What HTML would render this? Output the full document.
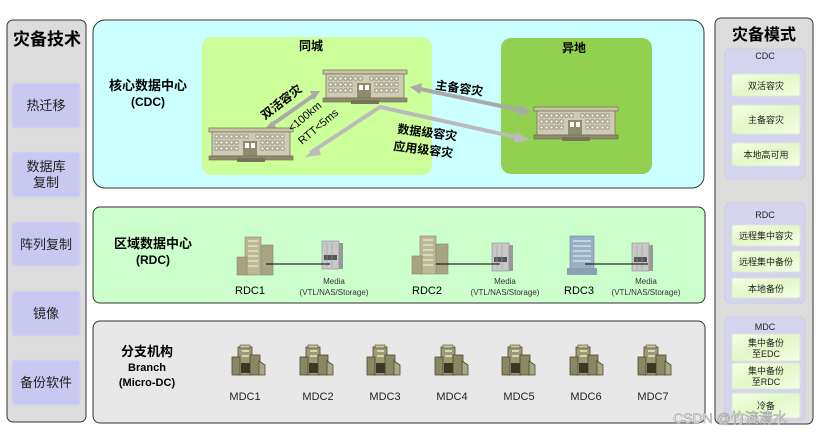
<!DOCTYPE html>
<html><head><meta charset="utf-8"><style>
body{margin:0;background:#fff}
svg{display:block}
text{font-family:"Liberation Sans","Noto Sans CJK SC",sans-serif}
</style></head><body>
<svg width="819" height="437" viewBox="0 0 819 437" xmlns="http://www.w3.org/2000/svg">
<defs>
<linearGradient id="btn" x1="0" y1="0" x2="1" y2="1"><stop offset="0" stop-color="#f4ffe4"/><stop offset="0.5" stop-color="#e2f8c8"/><stop offset="1" stop-color="#f4ffe4"/></linearGradient>
<g id="bld">
<rect x="0" y="0" width="84" height="4" fill="#c8c4a8" stroke="#7a7658" stroke-width="0.8"/>
<rect x="3" y="4" width="78" height="24" fill="#cfcbb2" stroke="#7a7658" stroke-width="0.8"/>
<g fill="#fff" stroke="#6a6650" stroke-width="0.6">
<rect x="6" y="7" width="3" height="3"/><rect x="11" y="7" width="3" height="3"/><rect x="16" y="7" width="3" height="3"/><rect x="21" y="7" width="3" height="3"/><rect x="26" y="7" width="3" height="3"/><rect x="31" y="7" width="3" height="3"/><rect x="36" y="7" width="3" height="3"/><rect x="47" y="7" width="3" height="3"/><rect x="52" y="7" width="3" height="3"/><rect x="57" y="7" width="3" height="3"/><rect x="62" y="7" width="3" height="3"/><rect x="67" y="7" width="3" height="3"/><rect x="72" y="7" width="3" height="3"/>
<rect x="6" y="13" width="3" height="3"/><rect x="11" y="13" width="3" height="3"/><rect x="16" y="13" width="3" height="3"/><rect x="21" y="13" width="3" height="3"/><rect x="26" y="13" width="3" height="3"/><rect x="52" y="13" width="3" height="3"/><rect x="57" y="13" width="3" height="3"/><rect x="62" y="13" width="3" height="3"/><rect x="67" y="13" width="3" height="3"/><rect x="72" y="13" width="3" height="3"/>
<rect x="6" y="19" width="3" height="3"/><rect x="11" y="19" width="3" height="3"/><rect x="16" y="19" width="3" height="3"/><rect x="21" y="19" width="3" height="3"/><rect x="26" y="19" width="3" height="3"/><rect x="52" y="19" width="3" height="3"/><rect x="57" y="19" width="3" height="3"/><rect x="62" y="19" width="3" height="3"/><rect x="67" y="19" width="3" height="3"/><rect x="72" y="19" width="3" height="3"/>
</g>
<rect x="34" y="13" width="14" height="15" fill="#8f8b6e"/>
<rect x="36" y="15" width="4" height="5" fill="#fff"/><rect x="42" y="15" width="4" height="5" fill="#fff"/>
<rect x="0" y="28" width="84" height="4" fill="#8f8b6e" stroke="#6a6650" stroke-width="0.6"/>
<rect x="28" y="30" width="28" height="4" fill="#77735a"/>
</g>
<g id="tower">
<rect x="8" y="0" width="16" height="38" fill="#bcb896" stroke="#8a8668" stroke-width="0.6"/>
<rect x="24" y="8" width="12" height="30" fill="#a8a482" stroke="#8a8668" stroke-width="0.6"/>
<rect x="0" y="20" width="10" height="18" fill="#a8a482" stroke="#8a8668" stroke-width="0.6"/>
<g fill="#dcd8bc"><rect x="11" y="3" width="10" height="2"/><rect x="11" y="8" width="10" height="2"/><rect x="11" y="13" width="10" height="2"/><rect x="11" y="18" width="10" height="2"/><rect x="11" y="23" width="10" height="2"/><rect x="11" y="28" width="10" height="2"/></g>
</g>
<g id="media">
<rect x="0" y="0" width="17" height="28" fill="#c8c8c8" stroke="#888" stroke-width="0.6"/>
<rect x="17" y="2" width="4" height="26" fill="#999"/>
<rect x="2" y="14" width="13" height="5" fill="#555"/>
<line x1="5" y1="2" x2="5" y2="26" stroke="#999" stroke-width="0.6"/><line x1="10" y1="2" x2="10" y2="26" stroke="#999" stroke-width="0.6"/>
</g>
<g id="mdc">
<rect x="6" y="2" width="14" height="28" fill="#9c9a76" stroke="#4a4a30" stroke-width="0.8"/>
<rect x="18" y="10" width="10" height="20" fill="#8a8864" stroke="#4a4a30" stroke-width="0.8"/>
<path d="M27 16 l6 4 v10 h-6z" fill="#aaa884" stroke="#4a4a30" stroke-width="0.8"/>
<rect x="0" y="12" width="8" height="18" fill="#8a8864" stroke="#4a4a30" stroke-width="0.8"/>
<rect x="9" y="18" width="9" height="10" fill="#3a3a24"/>
<rect x="10" y="5" width="7" height="2" fill="#d8d6b0"/><rect x="10" y="10" width="7" height="2" fill="#d8d6b0"/>
<rect x="8" y="0" width="10" height="3" fill="#c8c6a0" stroke="#4a4a30" stroke-width="0.6"/>
</g>
</defs>

<!-- left panel -->
<rect x="7" y="20" width="79" height="402" rx="6" fill="#dcdcdc" stroke="#333" stroke-width="1"/>
<text x="47" y="45" font-size="17" font-weight="bold" text-anchor="middle">灾备技术</text>
<g fill="#c8c8f0" stroke="#d4d4ee" stroke-width="1">
<rect x="12" y="83" width="68" height="45" rx="3"/>
<rect x="12" y="152" width="68" height="45" rx="3"/>
<rect x="12" y="222" width="68" height="44" rx="3"/>
<rect x="12" y="291" width="68" height="45" rx="3"/>
<rect x="12" y="360" width="68" height="45" rx="3"/>
</g>
<g font-size="13" text-anchor="middle" fill="#222">
<text x="46" y="110">热迁移</text>
<text x="46" y="171">数据库</text><text x="46" y="187">复制</text>
<text x="46" y="249">阵列复制</text>
<text x="46" y="318">镜像</text>
<text x="46" y="387">备份软件</text>
</g>

<!-- CDC box -->
<rect x="93" y="20" width="611" height="168" rx="12" fill="#ccffff" stroke="#333" stroke-width="1"/>
<text x="148" y="90" font-size="13" font-weight="bold" text-anchor="middle">核心数据中心</text>
<text x="148" y="106" font-size="12" font-weight="bold" text-anchor="middle">(CDC)</text>
<rect x="202" y="37" width="230" height="138" rx="10" fill="#ccff99"/>
<text x="311" y="50" font-size="12" font-weight="bold" text-anchor="middle">同城</text>
<rect x="501" y="38" width="151" height="136" rx="10" fill="#92d050"/>
<text x="574" y="52" font-size="12" font-weight="bold" text-anchor="middle">异地</text>

<!-- arrows -->
<g stroke="#bbb" stroke-width="4" fill="none">
<polyline points="310,153 380,107 520,138"/>
</g>
<polygon points="305,157 318,146 321,155" fill="#bbb"/>
<polygon points="530,140 516,132 514,143" fill="#bbb"/>
<line x1="270" y1="126" x2="313" y2="96" stroke="#aaa" stroke-width="4"/>
<polygon points="262,132 272,121 277,129" fill="#aaa"/>
<polygon points="320,91 310,91 314,100" fill="#aaa"/>
<line x1="420" y1="89" x2="520" y2="110" stroke="#aaa" stroke-width="4"/>
<polygon points="410,87 422,83 420,94" fill="#aaa"/>
<polygon points="532,112 520,105 518,116" fill="#aaa"/>

<use href="#bld" x="209" y="128"/>
<use href="#bld" x="323" y="70"/>
<use href="#bld" x="534" y="107"/>

<text transform="translate(265,120) rotate(-38)" font-size="12" font-weight="bold">双活容灾</text>
<text transform="translate(292,132) rotate(-40)" font-size="11">&lt;100km</text>
<text transform="translate(302,145) rotate(-40)" font-size="11">RTT&lt;5ms</text>
<text transform="translate(435,89) rotate(8)" font-size="12" font-weight="bold">主备容灾</text>
<text transform="translate(397,133) rotate(7)" font-size="12" font-weight="bold">数据级容灾</text>
<text transform="translate(393,150) rotate(7)" font-size="12" font-weight="bold">应用级容灾</text>

<!-- RDC box -->
<rect x="93" y="207" width="612" height="96" rx="7" fill="#ccffcc" stroke="#333" stroke-width="1"/>
<text x="153" y="248" font-size="13" font-weight="bold" text-anchor="middle">区域数据中心</text>
<text x="153" y="264" font-size="12" font-weight="bold" text-anchor="middle">(RDC)</text>
<use href="#tower" x="237" y="237"/>
<use href="#media" x="322" y="241"/>
<line x1="266" y1="264" x2="330" y2="264" stroke="#000" stroke-width="1"/>
<use href="#tower" x="412" y="236"/>
<use href="#media" x="492" y="243"/>
<line x1="436" y1="264" x2="500" y2="264" stroke="#000" stroke-width="1"/>
<g>
<rect x="570" y="236" width="24" height="34" fill="#9ab0c4" stroke="#6a8298" stroke-width="0.6"/>
<rect x="567" y="268" width="30" height="7" fill="#8aa0b4"/>
<g fill="#c4d4e2"><rect x="573" y="240" width="18" height="2"/><rect x="573" y="245" width="18" height="2"/><rect x="573" y="250" width="18" height="2"/><rect x="573" y="255" width="18" height="2"/><rect x="573" y="260" width="18" height="2"/></g>
</g>
<use href="#media" x="632" y="243"/>
<line x1="585" y1="264" x2="648" y2="264" stroke="#000" stroke-width="1"/>
<g font-size="11" text-anchor="middle">
<text x="250" y="294">RDC1</text><text x="427" y="294">RDC2</text><text x="579" y="294">RDC3</text>
</g>
<g font-size="8" text-anchor="middle" fill="#333">
<text x="334" y="284">Media</text><text x="334" y="295">(VTL/NAS/Storage)</text>
<text x="505" y="284">Media</text><text x="505" y="295">(VTL/NAS/Storage)</text>
<text x="646" y="284">Media</text><text x="646" y="295">(VTL/NAS/Storage)</text>
</g>

<!-- Branch box -->
<rect x="93" y="321" width="612" height="102" rx="7" fill="#e8e8e8" stroke="#333" stroke-width="1"/>
<text x="147" y="356" font-size="13" font-weight="bold" text-anchor="middle">分支机构</text>
<text x="147" y="371" font-size="11" font-weight="bold" text-anchor="middle">Branch</text>
<text x="147" y="386" font-size="11" font-weight="bold" text-anchor="middle">(Micro-DC)</text>
<use href="#mdc" x="232" y="345"/><use href="#mdc" x="300" y="345"/><use href="#mdc" x="367" y="345"/><use href="#mdc" x="435" y="345"/><use href="#mdc" x="502" y="345"/><use href="#mdc" x="570" y="345"/><use href="#mdc" x="638" y="345"/>
<g font-size="11" text-anchor="middle" fill="#222">
<text x="245" y="400">MDC1</text><text x="318" y="400">MDC2</text><text x="385" y="400">MDC3</text><text x="452" y="400">MDC4</text><text x="519" y="400">MDC5</text><text x="586" y="400">MDC6</text><text x="653" y="400">MDC7</text>
</g>

<!-- right panel -->
<rect x="715" y="18" width="98" height="406" rx="6" fill="#dcdcdc" stroke="#333" stroke-width="1"/>
<text x="764" y="40" font-size="16" font-weight="bold" text-anchor="middle">灾备模式</text>
<g fill="#d4d4ee" stroke="#ccccdd" stroke-width="1">
<rect x="725" y="49" width="80" height="130" rx="5"/>
<rect x="725" y="203" width="80" height="100" rx="5"/>
<rect x="725" y="317" width="80" height="103" rx="5"/>
</g>
<g fill="url(#btn)" stroke="#e0e4d8" stroke-width="1">
<rect x="732" y="74" width="68" height="22" rx="2"/>
<rect x="732" y="105" width="68" height="29" rx="2"/>
<rect x="732" y="143" width="68" height="23" rx="2"/>
<rect x="732" y="225" width="68" height="21" rx="2"/>
<rect x="732" y="251" width="68" height="21" rx="2"/>
<rect x="732" y="278" width="68" height="20" rx="2"/>
<rect x="732" y="334" width="68" height="27" rx="2"/>
<rect x="732" y="363" width="68" height="26" rx="2"/>
<rect x="732" y="393" width="68" height="25" rx="2"/>
</g>
<g font-size="9" text-anchor="middle" fill="#222">
<text x="765" y="59">CDC</text>
<text x="766" y="89">双活容灾</text>
<text x="766" y="123">主备容灾</text>
<text x="766" y="158">本地高可用</text>
<text x="765" y="218">RDC</text>
<text x="766" y="239">远程集中容灾</text>
<text x="766" y="265">远程集中备份</text>
<text x="766" y="292">本地备份</text>
<text x="765" y="330">MDC</text>
<text x="766" y="346">集中备份</text><text x="766" y="357">至EDC</text>
<text x="766" y="374">集中备份</text><text x="766" y="385">至RDC</text>
<text x="766" y="409">冷备</text>
</g>
<text x="730" y="423" font-size="14" fill="#fff" stroke="#999" stroke-width="0.6" text-anchor="middle">CSDN @竹流清水</text>
</svg>
</body></html>
